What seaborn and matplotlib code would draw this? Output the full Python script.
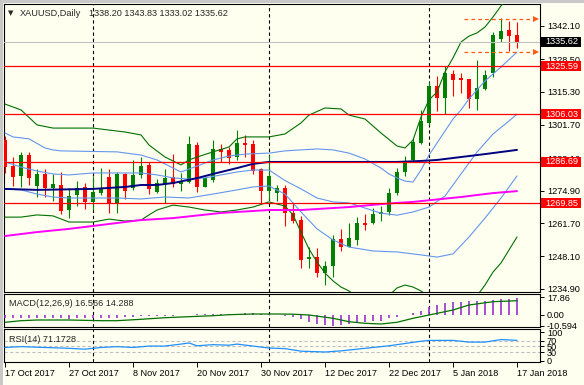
import matplotlib
matplotlib.use('Agg')
import matplotlib.pyplot as plt
import matplotlib.transforms as mtrans
from matplotlib.patches import Rectangle
import seaborn as sns

#################################################################################
# Data (XAUUSD daily, 17 Oct 2017 - 17 Jan 2018)
#################################################################################

bar_open = [1295.5, 1284.9, 1281.0, 1289.4, 1276.8, 1281.8, 1276.1, 1277.2, 1267.0, 1273.1,
            1276.5, 1270.3, 1273.8, 1280.6, 1269.3, 1281.7, 1276.1, 1281.3, 1285.3, 1274.2,
            1277.6, 1280.3, 1277.6, 1278.6, 1293.5, 1276.5, 1279.3, 1291.9, 1291.5, 1288.5,
            1294.2, 1293.9, 1283.6, 1274.9, 1274.1, 1276.1, 1265.7, 1262.9, 1246.9, 1247.8,
            1241.4, 1244.0, 1255.1, 1252.1, 1254.7, 1261.8, 1261.6, 1265.4, 1266.3, 1274.1,
            1282.6, 1287.4, 1294.5, 1302.6, 1317.6, 1312.8, 1322.4, 1320.9, 1320.4, 1312.3,
            1316.2, 1322.7, 1336.7, 1340.4, 1338.20]
bar_high = [1297.0, 1288.7, 1290.5, 1290.8, 1283.6, 1283.7, 1281.7, 1282.4, 1275.8, 1278.8,
            1278.1, 1280.9, 1284.0, 1283.6, 1282.6, 1282.0, 1287.4, 1288.7, 1286.7, 1279.6,
            1283.6, 1289.8, 1282.0, 1297.2, 1294.6, 1280.6, 1295.5, 1293.9, 1292.8, 1299.6,
            1297.6, 1295.5, 1284.0, 1289.4, 1277.2, 1277.2, 1269.7, 1264.6, 1252.0, 1251.4,
            1246.2, 1256.8, 1259.1, 1261.8, 1264.0, 1265.4, 1267.7, 1268.6, 1275.8, 1284.0,
            1289.0, 1296.3, 1307.8, 1319.3, 1321.6, 1325.7, 1324.1, 1322.7, 1320.4, 1328.2,
            1324.1, 1339.7, 1345.1, 1344.1, 1343.83]
bar_low = [1282.0, 1276.9, 1276.5, 1277.2, 1272.4, 1272.4, 1270.7, 1265.4, 1263.6, 1268.6,
           1267.3, 1266.9, 1273.1, 1265.7, 1265.9, 1271.4, 1275.0, 1279.9, 1273.4, 1274.1,
           1270.0, 1276.3, 1274.7, 1277.9, 1274.5, 1276.3, 1278.6, 1286.7, 1285.6, 1287.4,
           1288.7, 1281.7, 1269.7, 1271.1, 1270.7, 1260.5, 1261.8, 1243.5, 1243.5, 1239.8,
           1236.3, 1239.8, 1250.4, 1251.8, 1252.7, 1258.9, 1261.3, 1262.5, 1265.0, 1273.1,
           1280.9, 1286.7, 1293.9, 1301.7, 1307.4, 1306.0, 1313.6, 1314.9, 1308.7, 1307.8,
           1315.9, 1321.1, 1335.6, 1331.8, 1333.02]
bar_close = [1284.7, 1280.6, 1289.4, 1279.9, 1281.7, 1276.1, 1277.6, 1266.7, 1272.7, 1276.1,
             1270.3, 1274.3, 1275.4, 1269.7, 1281.7, 1274.9, 1281.3, 1284.9, 1275.5, 1277.9,
             1279.9, 1277.6, 1278.6, 1293.9, 1276.5, 1280.2, 1291.9, 1290.8, 1288.3, 1294.2,
             1293.5, 1283.0, 1274.9, 1280.9, 1275.8, 1265.7, 1262.5, 1246.6, 1247.8, 1241.2,
             1244.2, 1255.1, 1252.1, 1255.5, 1261.8, 1260.9, 1265.4, 1266.3, 1274.1, 1282.6,
             1286.7, 1294.9, 1303.3, 1317.6, 1312.8, 1323.0, 1320.0, 1320.0, 1312.3, 1316.9,
             1322.0, 1338.4, 1340.0, 1338.1, 1335.62]

# bollinger style bands (outer green, inner blue, blue middle) and two moving averages
outer_up_x = [0, 2, 4, 6, 11, 15, 17, 18, 20, 21, 22, 23, 24, 26, 28, 29, 30, 33, 35, 37, 38,
              40, 42, 43, 45, 47, 49, 50, 51, 52, 53, 54, 55, 56, 57, 58, 59, 60, 61, 62, 63, 64]
outer_up = [1310.2, 1307.8, 1301.7, 1300.4, 1300.4, 1298.8, 1297.6, 1293.5, 1288.6, 1287.0,
            1285.4, 1287.4, 1288.6, 1290.7, 1292.7, 1296.0, 1296.8, 1296.8, 1298.0, 1302.5,
            1305.7, 1308.6, 1308.2, 1305.7, 1304.1, 1298.4, 1293.1, 1292.3, 1295.5, 1304.9,
            1311.9, 1315.1, 1323.3, 1329.0, 1335.5, 1337.9, 1339.2, 1341.6, 1345.7, 1350.2,
            1354.3, 1357.5]
inner_up_x = [0, 1, 3, 5, 6, 7, 14, 17, 19, 20, 21, 22, 24, 26, 28, 30, 33, 35, 37, 39, 41, 43,
              45, 47, 48, 49, 50, 51, 52, 53, 54, 55, 56, 57, 58, 60, 62, 64]
inner_up = [1298.4, 1296.8, 1296.0, 1292.3, 1291.5, 1291.1, 1290.7, 1289.4, 1287.4, 1285.8,
            1284.1, 1282.5, 1284.9, 1287.4, 1289.0, 1289.8, 1290.2, 1291.1, 1291.5, 1291.9,
            1291.5, 1290.2, 1287.8, 1284.1, 1281.7, 1280.1, 1278.8, 1278.4, 1283.3, 1289.4,
            1294.3, 1299.2, 1304.1, 1307.8, 1312.3, 1319.6, 1325.3, 1331.4]
middle_x = [0, 2, 4, 6, 8, 11, 14, 17, 19, 21, 23, 25, 27, 29, 31, 33, 35, 37, 39, 41, 43, 45,
            47, 49, 51, 53, 55, 57, 59, 61, 63, 64]
middle = [1286.6, 1284.5, 1282.9, 1281.7, 1281.3, 1282.1, 1282.1, 1282.1, 1281.3, 1280.1,
          1279.6, 1280.1, 1281.3, 1282.5, 1283.3, 1283.3, 1279.0, 1275.6, 1271.9, 1270.3,
          1269.9, 1267.8, 1265.7, 1264.9, 1266.2, 1268.2, 1272.7, 1281.7, 1290.6, 1298.0,
          1303.3, 1306.1]
inner_dn_x = [0, 2, 4, 6, 8, 14, 17, 20, 23, 26, 29, 31, 33, 35, 37, 39, 41, 43, 46, 49, 52,
              54, 56, 58, 60, 62, 64]
inner_dn = [1275.6, 1275.2, 1273.5, 1272.3, 1271.9, 1271.9, 1271.5, 1272.3, 1271.9, 1273.5,
            1275.2, 1276.4, 1276.8, 1273.5, 1266.2, 1259.3, 1254.8, 1251.9, 1250.3, 1249.9,
            1248.7, 1247.8, 1249.1, 1256.0, 1263.7, 1271.9, 1280.9]
outer_dn_x = [0, 2, 4, 6, 8, 11, 13, 15, 17, 18, 19, 21, 23, 25, 27, 29, 31, 33, 35, 36, 37,
              38, 39, 40, 41, 42, 43, 45, 47, 49, 50, 51, 52, 54, 57, 59, 60, 61, 62, 63, 64]
outer_dn = [1264.1, 1264.1, 1265.0, 1264.6, 1262.1, 1262.1, 1263.3, 1262.5, 1262.9, 1265.0,
            1267.0, 1269.0, 1268.2, 1267.0, 1266.2, 1267.0, 1268.2, 1270.3, 1268.6, 1265.0,
            1258.0, 1251.1, 1245.8, 1241.3, 1238.1, 1235.6, 1234.0, 1229.1, 1229.1, 1235.2,
            1236.4, 1235.6, 1234.0, 1229.1, 1229.1, 1232.0, 1236.4, 1241.7, 1245.4, 1250.7,
            1256.0]
ma_navy_x = [0, 4, 11, 15, 17, 19, 21, 24, 26, 29, 31, 33, 37, 41, 45, 49, 52, 54, 57, 60, 64]
ma_navy = [1275.6, 1275.2, 1275.6, 1276.4, 1277.2, 1277.2, 1278.0, 1280.0, 1281.7, 1284.1,
           1285.8, 1286.6, 1286.6, 1286.6, 1286.6, 1286.6, 1287.0, 1287.4, 1288.6, 1289.8,
           1291.5]
ma_pink_x = [0, 4, 8, 11, 17, 21, 27, 33, 37, 39, 43, 47, 49, 51, 57, 61, 64]
ma_pink = [1256.4, 1258.0, 1259.3, 1260.5, 1262.9, 1263.7, 1265.8, 1267.0, 1267.0, 1267.4,
           1268.2, 1269.4, 1269.9, 1270.3, 1272.3, 1273.9, 1274.7]

# horizontal levels, current price and the two orange arrows
levels = [1325.59, 1306.03, 1286.69, 1269.85]
last_price = 1335.62
arrow_levels = [1345.0, 1331.4]
arrow_span = [57.4, 66.4]
price_ticks = [1342.10, 1328.50, 1315.30, 1301.70, 1288.10, 1274.90, 1261.70, 1248.10, 1234.90]

# MACD(12,26,9): histogram for every bar, signal line sampled
macd_hist = [-3.3, -3.2, -3.1, -3.0, -3.1, -3.2, -3.2, -3.4, -3.5, -3.4, -3.4, -3.3, -3.2,
             -3.3, -2.5, -2.3, -2.0, -1.2, -1.0, -0.8, -0.6, -0.5, 0.3, 0.5, 0.6, 0.6, 0.7,
             1.0, 1.3, 1.5, 1.8, 1.6, 1.2, 0.8, 0.2, -1.0, -2.3, -4.3, -7.3, -9.0, -10.0,
             -10.594, -9.7, -9.0, -8.3, -7.0, -6.0, -5.7, -3.3, -1.7, -0.3, 1.7, 4.3, 8.3,
             10.0, 11.7, 12.7, 13.3, 14.0, 14.0, 14.3, 15.0, 15.7, 16.0, 16.566]
macd_sig_x = [0, 2, 4, 8, 12, 14, 17, 20, 23, 26, 28, 31, 34, 36, 38, 41, 43, 45, 47, 49, 51,
              53, 56, 58, 61, 64]
macd_sig = [-7.3, -5.7, -5.0, -5.0, -5.7, -5.7, -4.3, -2.7, -1.7, -0.7, 0.3, 1.0, 1.0, 0.8,
            0.0, -3.3, -6.7, -8.3, -9.0, -7.3, -3.3, 0.0, 5.0, 10.0, 13.3, 14.288]

# RSI(14)
rsi_x = [0, 2, 5, 8, 10, 12, 14, 16, 18, 20, 22, 23, 24, 26, 28, 29, 31, 33, 35, 37, 40, 42,
         44, 46, 48, 50, 52, 53, 56, 58, 60, 62, 64]
rsi = [46, 49, 46, 43, 40, 46, 49, 46, 51, 51, 58, 62, 52, 56, 54, 58, 51, 44, 42, 33, 30, 34,
       40, 46, 52, 60, 68, 71, 71, 65, 65, 74, 71.1728]

date_pos = [0, 8, 16, 24, 32, 40, 48, 56, 64]
date_labels = ['17 Oct 2017', '27 Oct 2017', '8 Nov 2017', '20 Nov 2017', '30 Nov 2017',
               '12 Dec 2017', '22 Dec 2017', '5 Jan 2018', '17 Jan 2018']
month_sep = [11, 33, 53]

#################################################################################
# Figure
#################################################################################

W, H = 584, 385
BG = '#FFFFF0'
FS = 6.6
sns.set_style('white')
plt.rcParams['font.family'] = ['Liberation Sans', 'DejaVu Sans']

fig = plt.figure(figsize=(W / 100, H / 100), dpi=100, facecolor=BG)


def box(x0, y0, x1, y1):
    return [x0 / W, 1 - y1 / H, (x1 - x0) / W, (y1 - y0) / H]


ax = fig.add_axes(box(4, 4, 540, 292))
axm = fig.add_axes(box(4, 294, 540, 327))
axr = fig.add_axes(box(4, 329, 540, 362))

for a in (ax, axm, axr):
    a.set_facecolor(BG)
    a.set_xlim(-0.125, 66.875)
    for s in a.spines.values():
        s.set_color('black')
        s.set_linewidth(0.8)
    a.yaxis.tick_right()
    a.tick_params(axis='y', direction='out', length=3, width=0.7, pad=2,
                  labelsize=FS, colors='black')
    a.tick_params(axis='x', bottom=False, labelbottom=False)
    for sx in month_sep:
        a.axvline(sx, color='black', linewidth=0.8, linestyle=(0, (3, 2.5)), zorder=3)

# window frame
fig.patches.append(Rectangle((0, 0), 3.3 / W, 1, transform=fig.transFigure,
                             facecolor='#C8C8C8', edgecolor='none'))
fig.patches.append(Rectangle((0, 1 - 2.5 / H), 1, 2.5 / H, transform=fig.transFigure,
                             facecolor='#C8C8C8', edgecolor='none'))

# ---- main price panel
ax.set_ylim(1233.57, 1350.99)
ax.set_yticks(price_ticks)
ax.set_yticklabels(['%.2f' % t for t in price_ticks])

idx = list(range(len(bar_close)))
cols = ['#008000' if c >= o else '#FF0000' for o, c in zip(bar_open, bar_close)]
ax.vlines(idx, bar_low, bar_high, colors=cols, linewidth=0.8, zorder=4)
ax.bar(idx, [max(abs(c - o), 0.45) for o, c in zip(bar_open, bar_close)],
       bottom=[min(o, c) for o, c in zip(bar_open, bar_close)],
       width=0.62, color=cols, linewidth=0, zorder=5)

line_kw = dict(ax=ax, legend=False, zorder=6)
sns.lineplot(x=outer_up_x, y=outer_up, color='#007000', linewidth=0.8, **line_kw)
sns.lineplot(x=outer_dn_x, y=outer_dn, color='#007000', linewidth=0.8, **line_kw)
sns.lineplot(x=inner_up_x, y=inner_up, color='#6495ED', linewidth=0.8, **line_kw)
sns.lineplot(x=middle_x, y=middle, color='#6495ED', linewidth=0.8, **line_kw)
sns.lineplot(x=inner_dn_x, y=inner_dn, color='#6495ED', linewidth=0.8, **line_kw)
sns.lineplot(x=ma_pink_x, y=ma_pink, color='#FF00FF', linewidth=1.4, **line_kw)
sns.lineplot(x=ma_navy_x, y=ma_navy, color='#000080', linewidth=1.4, **line_kw)

ax.axhline(last_price, color='#C0C0C0', linewidth=0.8, zorder=6)
for lv in levels:
    ax.axhline(lv, color='#FF0000', linewidth=0.9, zorder=7)
for lv in arrow_levels:
    ax.plot(arrow_span, [lv, lv], color='#FF5A14', linewidth=0.9,
            linestyle=(0, (3, 2.5)), zorder=7)
    ax.plot([arrow_span[1]], [lv], marker='>', markersize=4.5, color='#FF5A14',
            markeredgewidth=0, zorder=7, clip_on=False)

# price tags on the right axis
tag = mtrans.blended_transform_factory(ax.transAxes, ax.transData)
half = 2.1
for lv, fc in [(v, '#FF0000') for v in levels] + [(last_price, 'black')]:
    ax.add_patch(Rectangle((1.002, lv - half), 0.0746, 2 * half, transform=tag,
                           facecolor=fc, edgecolor='none', clip_on=False, zorder=8))
    ax.text(1.0095, lv, '%.2f' % lv, transform=tag, ha='left', va='center',
            color='white', fontsize=FS, clip_on=False, zorder=9)

# ---- MACD panel
axm.set_ylim(-12, 21)
axm.set_yticks([17.86, 0, -10.594])
axm.set_yticklabels(['17.86', '0.00', '-10.594'])
axm.vlines(idx, 0, macd_hist, colors='#9932CC', linewidth=1.2, zorder=4)
sns.lineplot(x=macd_sig_x, y=macd_sig, ax=axm, color='#007000', linewidth=0.9,
             legend=False, zorder=5)

# ---- RSI panel
axr.set_ylim(-5.3, 111.3)
axr.set_yticks([100, 70, 50, 30, 0])
axr.set_yticklabels(['100', '70', '50', '30', '0'])
for lv in (70, 50, 30):
    axr.axhline(lv, color='#C0C0C0', linewidth=0.8, linestyle=(0, (3, 2)), zorder=2)
sns.lineplot(x=rsi_x, y=rsi, ax=axr, color='#1E90FF', linewidth=0.9, legend=False, zorder=5)
axr.set_xticks(date_pos)
axr.set_xticklabels(date_labels, ha='left')
axr.tick_params(axis='x', bottom=True, labelbottom=True, direction='out', length=3.5,
                width=0.7, pad=1.5, labelsize=FS, colors='black')

for a in (ax, axm, axr):
    a.set_xlabel('')
    a.set_ylabel('')


def fpos(x, y):
    return x / W, 1 - y / H


fig.text(*fpos(8, 13), '\u25BC', fontsize=5, family='DejaVu Sans', va='center', ha='left')
fig.text(*fpos(20, 13.5), 'XAUUSD,Daily', fontsize=FS, va='center', ha='left')
fig.text(*fpos(89, 13.5), '1338.20 1343.83 1333.02 1335.62', fontsize=FS, va='center', ha='left')
fig.text(*fpos(9, 304), 'MACD(12,26,9) 16.566 14.288', fontsize=FS, va='center', ha='left')
fig.text(*fpos(9, 339.5), 'RSI(14) 71.1728', fontsize=FS, va='center', ha='left')

fig.savefig('out.png', dpi=100, facecolor=BG)
